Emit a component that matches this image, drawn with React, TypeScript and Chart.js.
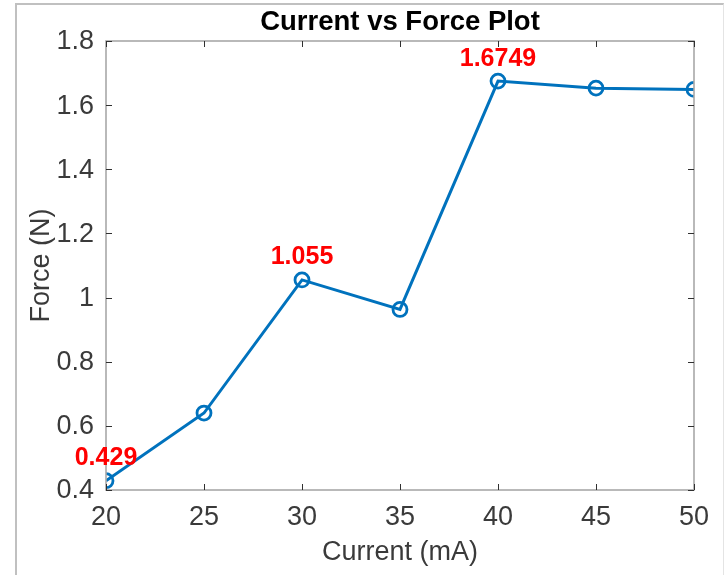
import React, { useEffect, useRef } from "react";
import { Chart, registerables } from "chart.js";

Chart.register(...registerables);

const currents = [20, 25, 30, 35, 40, 45, 50];
const forces = [0.429, 0.64, 1.055, 0.963, 1.6749, 1.653, 1.649];

const labelTexts = ["0.429", "1.055", "1.6749"];
const labelCurrents = [20, 30, 40];
const labelForces = [0.499, 1.125, 1.745];

const xTicks = [20, 25, 30, 35, 40, 45, 50];
const yTicks = [0.4, 0.6, 0.8, 1.0, 1.2, 1.4, 1.6, 1.8];
const yTickLabels = ["0.4", "0.6", "0.8", "1", "1.2", "1.4", "1.6", "1.8"];

const titleText = "Current vs Force Plot";
const xTitle = "Current (mA)";
const yTitle = "Force (N)";

const FONT = "'Liberation Sans', Arial, Helvetica, sans-serif";
const TEXT_COLOR = "#3a3a3a";
const LINE_COLOR = "#0072BD";

const decorPlugin = {
  id: "decor",
  afterDraw(chart: any) {
    const { ctx, chartArea } = chart;
    const { left, right, top, bottom } = chartArea;
    const xs = chart.scales.x;
    const ys = chart.scales.y;
    ctx.save();
    // axes box
    ctx.strokeStyle = "#a8a8a8";
    ctx.lineWidth = 1.6;
    ctx.strokeRect(left, top, right - left, bottom - top);
    // inward ticks
    ctx.strokeStyle = "#303030";
    ctx.lineWidth = 1;
    const tl = 6;
    xTicks.forEach((v) => {
      const px = Math.round(xs.getPixelForValue(v)) + 0.5;
      ctx.beginPath();
      ctx.moveTo(px, bottom);
      ctx.lineTo(px, bottom - tl);
      ctx.moveTo(px, top);
      ctx.lineTo(px, top + tl);
      ctx.stroke();
    });
    yTicks.forEach((v) => {
      const py = Math.round(ys.getPixelForValue(v)) + 0.5;
      ctx.beginPath();
      ctx.moveTo(left, py);
      ctx.lineTo(left + tl, py);
      ctx.moveTo(right, py);
      ctx.lineTo(right - tl, py);
      ctx.stroke();
    });
    // tick labels
    ctx.fillStyle = TEXT_COLOR;
    ctx.font = `27px ${FONT}`;
    ctx.textBaseline = "middle";
    ctx.textAlign = "center";
    xTicks.forEach((v) => {
      ctx.fillText(String(v), xs.getPixelForValue(v), bottom + 28);
    });
    ctx.textAlign = "right";
    yTicks.forEach((v, i) => {
      ctx.fillText(yTickLabels[i], left - 12, ys.getPixelForValue(v) + 1);
    });
    // title
    const cx = (left + right) / 2;
    ctx.fillStyle = "#000000";
    ctx.textAlign = "center";
    ctx.font = `bold 27.5px ${FONT}`;
    ctx.fillText(titleText, cx, 22);
    // axis titles
    ctx.fillStyle = TEXT_COLOR;
    ctx.font = `27px ${FONT}`;
    ctx.fillText(xTitle, cx, bottom + 63);
    ctx.save();
    ctx.translate(left - 64, (top + bottom) / 2);
    ctx.rotate(-Math.PI / 2);
    ctx.fillText(yTitle, 0, 0);
    ctx.restore();
    // data labels
    ctx.fillStyle = "#FF0000";
    ctx.font = `bold 25px ${FONT}`;
    labelTexts.forEach((t, i) => {
      ctx.fillText(
        t,
        xs.getPixelForValue(labelCurrents[i]),
        ys.getPixelForValue(labelForces[i])
      );
    });
    ctx.restore();
  },
};

export default function App() {
  const canvasRef = useRef<HTMLCanvasElement | null>(null);

  useEffect(() => {
    const canvas = canvasRef.current;
    if (!canvas) return;
    const chart = new Chart(canvas, {
      type: "line",
      data: {
        datasets: [
          {
            data: currents.map((x, i) => ({ x, y: forces[i] })),
            borderColor: LINE_COLOR,
            borderWidth: 3,
            pointRadius: 7,
            pointBorderWidth: 2.8,
            pointBackgroundColor: "rgba(0,0,0,0)",
            pointBorderColor: LINE_COLOR,
            tension: 0,
            fill: false,
          },
        ],
      },
      options: {
        responsive: false,
        animation: false,
        layout: { padding: { top: 41, right: 31, left: 0, bottom: 0 } },
        plugins: {
          legend: { display: false },
          title: { display: false },
          tooltip: { enabled: false },
        },
        scales: {
          x: {
            type: "linear",
            min: 20,
            max: 50,
            grid: { display: false },
            border: { display: false },
            ticks: { display: false },
            afterFit: (s: any) => {
              s.height = 85;
            },
          },
          y: {
            type: "linear",
            min: 0.4,
            max: 1.8,
            grid: { display: false },
            border: { display: false },
            ticks: { display: false },
            afterFit: (s: any) => {
              s.width = 106;
            },
          },
        },
      },
      plugins: [decorPlugin],
    } as any);
    return () => chart.destroy();
  }, []);

  return (
    <div
      style={{
        position: "fixed",
        left: 0,
        top: 0,
        width: 725,
        height: 575,
        background: "#ffffff",
      }}
    >
      <canvas ref={canvasRef} width={725} height={575} style={{ display: "block" }} />
      <div
        style={{
          position: "absolute",
          left: 15,
          top: 3,
          width: 706,
          height: 572,
          borderLeft: "2px solid #c0c0c0",
          borderTop: "2px solid #c0c0c0",
          borderRight: "1px solid #e4e4e4",
          pointerEvents: "none",
        }}
      />
    </div>
  );
}
